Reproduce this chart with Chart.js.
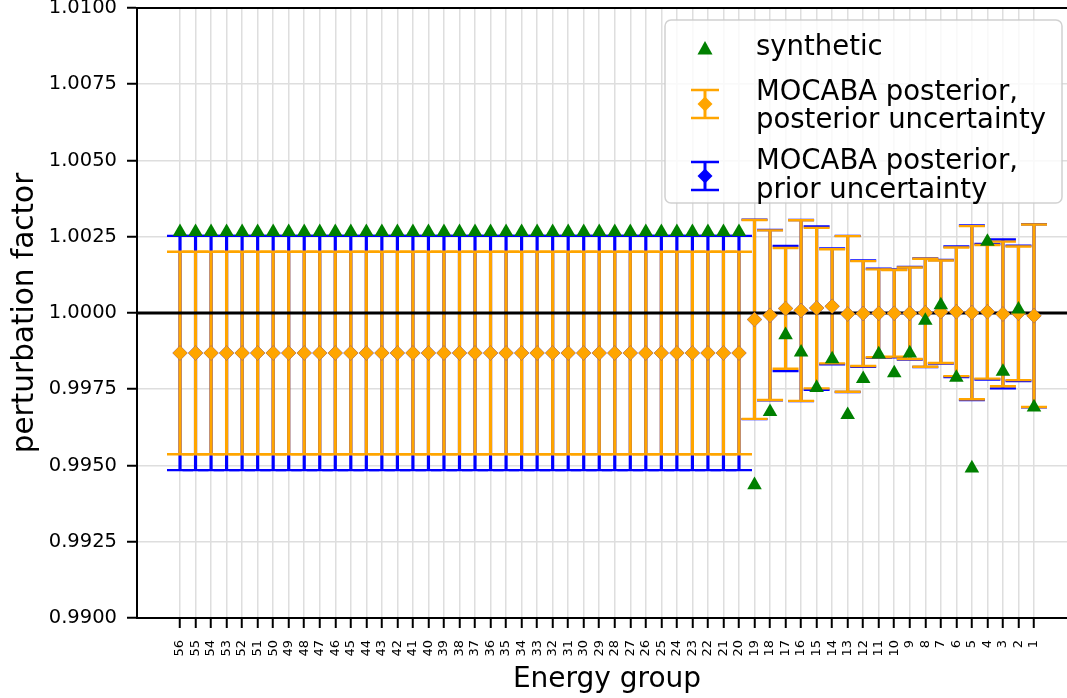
<!DOCTYPE html>
<html>
<head>
<meta charset="utf-8">
<script src="https://cdn.jsdelivr.net/npm/chart.js@4.4.0/dist/chart.umd.min.js"></script>
<style>
  html, body { margin: 0; padding: 0; background: #ffffff; overflow: hidden; width: 1067px; height: 698px; }
  canvas { display: block; }
</style>
</head>
<body>
<!-- the axes run slightly past the right edge of the window, so the right spine is cut off -->
<canvas id="chart" width="1077" height="698"></canvas>
<script>
// Energy groups, plotted from high (56) to low (1)
const energyGroups = [56, 55, 54, 53, 52, 51, 50, 49, 48, 47, 46, 45, 44, 43, 42, 41, 40, 39, 38,
  37, 36, 35, 34, 33, 32, 31, 30, 29, 28, 27, 26, 25, 24, 23, 22, 21, 20,
  19, 18, 17, 16, 15, 14, 13, 12, 11, 10, 9, 8, 7, 6, 5, 4, 3, 2, 1];

// Synthetic perturbation factors
const synthetic = [1.00266, 1.00266, 1.00266, 1.00266, 1.00266, 1.00266, 1.00266, 1.00266, 1.00266, 1.00266,
  1.00266, 1.00266, 1.00266, 1.00266, 1.00266, 1.00266, 1.00266, 1.00266, 1.00266, 1.00266,
  1.00266, 1.00266, 1.00266, 1.00266, 1.00266, 1.00266, 1.00266, 1.00266, 1.00266, 1.00266,
  1.00266, 1.00266, 1.00266, 1.00266, 1.00266, 1.00266, 1.00266,
  0.99436, 0.99676, 0.99928, 0.99871, 0.99755, 0.99849, 0.99666, 0.99784, 0.99865, 0.99803,
  0.99868, 0.99975, 1.00026, 0.99788, 0.99491, 1.00234, 0.99808, 1.00012, 0.99691];

// MOCABA posterior mean
const posteriorMean = [0.99869, 0.99869, 0.99869, 0.99869, 0.99869, 0.99869, 0.99869, 0.99869, 0.99869, 0.99869,
  0.99869, 0.99869, 0.99869, 0.99869, 0.99869, 0.99869, 0.99869, 0.99869, 0.99869, 0.99869,
  0.99869, 0.99869, 0.99869, 0.99869, 0.99869, 0.99869, 0.99869, 0.99869, 0.99869, 0.99869,
  0.99869, 0.99869, 0.99869, 0.99869, 0.99869, 0.99869, 0.99869,
  0.99979, 0.99993, 1.00015, 1.00008, 1.00016, 1.00022, 0.99997, 0.99998, 0.99999, 0.99999,
  0.99999, 1.00001, 1.00004, 1.00004, 1.00001, 1.00004, 0.99997, 0.99999, 0.99991];

// Posterior (one sigma) uncertainty
const posteriorSigma = [0.00332, 0.00332, 0.00332, 0.00332, 0.00332, 0.00332, 0.00332, 0.00332, 0.00332, 0.00332,
  0.00332, 0.00332, 0.00332, 0.00332, 0.00332, 0.00332, 0.00332, 0.00332, 0.00332, 0.00332,
  0.00332, 0.00332, 0.00332, 0.00332, 0.00332, 0.00332, 0.00332, 0.00332, 0.00332, 0.00332,
  0.00332, 0.00332, 0.00332, 0.00332, 0.00332, 0.00332, 0.00332,
  0.00326, 0.00278, 0.00198, 0.00296, 0.00263, 0.00187, 0.00255, 0.00172, 0.00144, 0.00142,
  0.00150, 0.00177, 0.00168, 0.00211, 0.00284, 0.00219, 0.00237, 0.00219, 0.00299];

// Prior (one sigma) uncertainty
const priorSigma = [0.00384, 0.00384, 0.00384, 0.00384, 0.00384, 0.00384, 0.00384, 0.00384, 0.00384, 0.00384,
  0.00384, 0.00384, 0.00384, 0.00384, 0.00384, 0.00384, 0.00384, 0.00384, 0.00384, 0.00384,
  0.00384, 0.00384, 0.00384, 0.00384, 0.00384, 0.00384, 0.00384, 0.00384, 0.00384, 0.00384,
  0.00384, 0.00384, 0.00384, 0.00384, 0.00384, 0.00384, 0.00384,
  0.00327, 0.00279, 0.00205, 0.00297, 0.00268, 0.00190, 0.00256, 0.00174, 0.00146, 0.00144,
  0.00152, 0.00178, 0.00170, 0.00214, 0.00286, 0.00222, 0.00244, 0.00222, 0.00300];

const yTicks = [0.9900, 0.9925, 0.9950, 0.9975, 1.0000, 1.0025, 1.0050, 1.0075, 1.0100];
const xLimits = [-2.77, 57.77];
const yLimits = [0.99, 1.01];
const referenceLevel = 1.0;

const FONT = '"DejaVu Sans", "Liberation Sans", sans-serif';
const GREEN = '#008000';
const ORANGE = '#ffa500';
const BLUE = '#0000ff';
const GRID = '#dedede';

const legendEntries = [
  { kind: 'triangle', color: GREEN, lines: ['synthetic'] },
  { kind: 'errorbar', color: ORANGE, lines: ['MOCABA posterior,', 'posterior uncertainty'] },
  { kind: 'errorbar', color: BLUE, lines: ['MOCABA posterior,', 'prior uncertainty'] }
];

// Error bars (prior below posterior), reference line, frame and legend
const errorBarPlugin = {
  id: 'errorBars',
  beforeDatasetsDraw(chart) {
    const { ctx, chartArea: a, scales: { x, y } } = chart;
    ctx.save();
    ctx.beginPath();
    ctx.rect(a.left, a.top, a.right - a.left, a.bottom - a.top);
    ctx.clip();
    const drawBars = (sigma, color) => {
      ctx.strokeStyle = color;
      ctx.lineCap = 'butt';
      ctx.lineWidth = 3.2;
      posteriorMean.forEach((m, i) => {
        const px = x.getPixelForValue(i);
        ctx.beginPath();
        ctx.moveTo(px, y.getPixelForValue(m + sigma[i]));
        ctx.lineTo(px, y.getPixelForValue(m - sigma[i]));
        ctx.stroke();
      });
      ctx.lineWidth = 2.4;
      posteriorMean.forEach((m, i) => {
        const px = x.getPixelForValue(i);
        const top = y.getPixelForValue(m + sigma[i]);
        const bot = y.getPixelForValue(m - sigma[i]);
        ctx.beginPath();
        ctx.moveTo(px - 13, top);
        ctx.lineTo(px + 13, top);
        ctx.moveTo(px - 13, bot);
        ctx.lineTo(px + 13, bot);
        ctx.stroke();
      });
    };
    drawBars(priorSigma, BLUE);
    drawBars(posteriorSigma, ORANGE);
    const yRef = y.getPixelForValue(referenceLevel);
    ctx.strokeStyle = '#000000';
    ctx.lineWidth = 3;
    ctx.beginPath();
    ctx.moveTo(a.left, yRef);
    ctx.lineTo(a.right, yRef);
    ctx.stroke();
    ctx.restore();
  },
  afterDraw(chart) {
    const { ctx, chartArea: a } = chart;
    ctx.save();
    // top and right spines
    ctx.strokeStyle = '#000000';
    ctx.lineWidth = 2;
    ctx.beginPath();
    ctx.moveTo(a.left - 1, a.top);
    ctx.lineTo(a.right, a.top);
    ctx.lineTo(a.right, a.bottom);
    ctx.stroke();

    // legend box (upper right)
    const bx = a.right - 412, by = a.top + 12, bw = 397, bh = 183, r = 6;
    ctx.beginPath();
    ctx.moveTo(bx + r, by);
    ctx.lineTo(bx + bw - r, by);
    ctx.arcTo(bx + bw, by, bx + bw, by + r, r);
    ctx.lineTo(bx + bw, by + bh - r);
    ctx.arcTo(bx + bw, by + bh, bx + bw - r, by + bh, r);
    ctx.lineTo(bx + r, by + bh);
    ctx.arcTo(bx, by + bh, bx, by + bh - r, r);
    ctx.lineTo(bx, by + r);
    ctx.arcTo(bx, by, bx + r, by, r);
    ctx.closePath();
    ctx.fillStyle = 'rgba(255,255,255,0.8)';
    ctx.fill();
    ctx.strokeStyle = 'rgba(204,204,204,0.9)';
    ctx.lineWidth = 1.5;
    ctx.stroke();

    const iconX = bx + 40;
    const textX = bx + 91;
    const rowCenters = [by + 28, by + 84, by + 156];
    const baselines = [[by + 35], [by + 80, by + 108], [by + 149, by + 178]];
    ctx.font = '27.5px ' + FONT;
    ctx.textBaseline = 'alphabetic';
    ctx.textAlign = 'left';
    legendEntries.forEach((e, k) => {
      const cy = rowCenters[k];
      ctx.fillStyle = e.color;
      ctx.strokeStyle = e.color;
      if (e.kind === 'triangle') {
        ctx.beginPath();
        ctx.moveTo(iconX, cy - 7);
        ctx.lineTo(iconX + 7.5, cy + 6.5);
        ctx.lineTo(iconX - 7.5, cy + 6.5);
        ctx.closePath();
        ctx.fill();
      } else {
        ctx.lineWidth = 3;
        ctx.beginPath();
        ctx.moveTo(iconX, cy - 14);
        ctx.lineTo(iconX, cy + 14);
        ctx.stroke();
        ctx.lineWidth = 2.4;
        ctx.beginPath();
        ctx.moveTo(iconX - 14, cy - 14);
        ctx.lineTo(iconX + 14, cy - 14);
        ctx.moveTo(iconX - 14, cy + 14);
        ctx.lineTo(iconX + 14, cy + 14);
        ctx.stroke();
        ctx.beginPath();
        ctx.moveTo(iconX, cy - 7.5);
        ctx.lineTo(iconX + 7.5, cy);
        ctx.lineTo(iconX, cy + 7.5);
        ctx.lineTo(iconX - 7.5, cy);
        ctx.closePath();
        ctx.fill();
      }
      ctx.fillStyle = '#000000';
      e.lines.forEach((t, j) => ctx.fillText(t, textX, baselines[k][j]));
    });
    ctx.restore();
  }
};

const toPoints = (arr) => arr.map((v, i) => ({ x: i, y: v }));

new Chart(document.getElementById('chart'), {
  type: 'scatter',
  data: {
    datasets: [
      {
        label: 'synthetic',
        data: toPoints(synthetic),
        pointStyle: 'triangle',
        pointRadius: 8.4,
        backgroundColor: GREEN,
        borderColor: GREEN,
        pointBorderWidth: 0
      },
      {
        label: 'MOCABA posterior, posterior uncertainty',
        data: toPoints(posteriorMean),
        pointStyle: 'rectRot',
        pointRadius: 7.5,
        backgroundColor: ORANGE,
        borderColor: ORANGE,
        pointBorderWidth: 0
      },
      {
        label: 'MOCABA posterior, prior uncertainty',
        data: toPoints(posteriorMean),
        pointStyle: 'rectRot',
        pointRadius: 7.5,
        backgroundColor: BLUE,
        borderColor: BLUE,
        pointBorderWidth: 0
      }
    ]
  },
  options: {
    responsive: false,
    animation: false,
    devicePixelRatio: 1,
    events: [],
    layout: { autoPadding: false, padding: { top: 8, right: 0, bottom: 0, left: 0 } },
    plugins: { legend: { display: false }, tooltip: { enabled: false } },
    scales: {
      x: {
        type: 'linear',
        min: xLimits[0],
        max: xLimits[1],
        afterBuildTicks: (axis) => { axis.ticks = energyGroups.map((g, i) => ({ value: i })); },
        afterFit: (axis) => { axis.height = 80; axis.paddingLeft = 0; axis.paddingRight = 0; },
        ticks: {
          autoSkip: false,
          minRotation: 90,
          maxRotation: 90,
          padding: 12,
          color: '#000000',
          font: { family: FONT, size: 13 },
          callback: (v) => String(energyGroups[v])
        },
        grid: { color: GRID, lineWidth: 1.5, tickColor: '#000000', tickLength: 10, tickWidth: 2 },
        border: { color: '#000000', width: 2 },
        title: {
          display: true,
          text: 'Energy group',
          color: '#000000',
          font: { family: FONT, size: 28 },
          padding: { top: 0, bottom: 1 }
        }
      },
      y: {
        type: 'linear',
        min: yLimits[0],
        max: yLimits[1],
        afterBuildTicks: (axis) => { axis.ticks = yTicks.map((v) => ({ value: v })); },
        afterFit: (axis) => { axis.width = 137; axis.paddingTop = 0; axis.paddingBottom = 0; },
        ticks: {
          padding: 10,
          color: '#000000',
          font: { family: FONT, size: 19.5 },
          callback: (v) => Number(v).toFixed(4)
        },
        grid: { color: GRID, lineWidth: 1.5, tickColor: '#000000', tickLength: 10, tickWidth: 2 },
        border: { color: '#000000', width: 2 },
        title: {
          display: true,
          text: 'perturbation factor',
          color: '#000000',
          font: { family: FONT, size: 29.5 },
          padding: { top: 8, bottom: 0 }
        }
      }
    }
  },
  plugins: [errorBarPlugin]
});
</script>
</body>
</html>
